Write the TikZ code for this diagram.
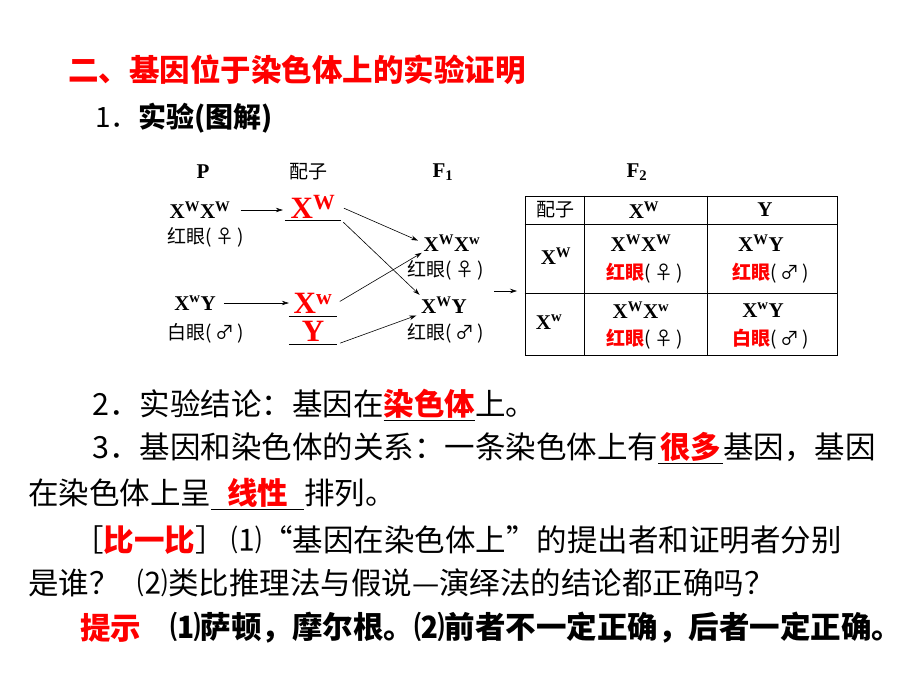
\documentclass[tikz,border=0pt]{standalone}
\usepackage{fontspec}
\setmainfont{Liberation Serif}
\newfontfamily\cjk{Noto Sans CJK SC}
\usetikzlibrary{arrows.meta}

\newcommand{\rtext}[1]{{\color{red}#1}}
\newcommand{\XW}{X\textsuperscript{W}}
\newcommand{\Xw}{X\textsuperscript{w}}
\newcommand{\gap}[2]{\underline{\hspace{#1}\rtext{\bfseries #2}\hspace{#1}}}

\tikzset{
  body/.style={anchor=west, inner sep=0pt, font=\cjk\fontsize{30.5}{31}\selectfont},
  lab/.style={inner sep=0pt, font=\bfseries\fontsize{21}{21}\selectfont},
  cn/.style={inner sep=0pt, font=\cjk\fontsize{19}{19}\selectfont},
  gam/.style={inner sep=0pt, font=\bfseries\fontsize{31}{31}\selectfont},
  arr/.style={-{Stealth[length=7pt,width=4.5pt]}, semithick},
}

\begin{document}
\begin{tikzpicture}[x=1pt,y=-1pt]
\useasboundingbox (0,0) rectangle (920,690);

\node[body, font=\cjk\bfseries\fontsize{30.5}{31}\selectfont] (title) at (68,70) {\rtext{二、基因位于染色体上的实验证明}};
\node[body, font=\cjk\fontsize{28}{28}\selectfont] (s1) at (95,118) {1．{\bfseries 实验(图解)}};

% cross diagram
\node[lab] (P) at (203,172) {P};
\node[cn] (gh) at (308,172) {配子};
\node[lab] (F1) at (443,172) {F\textsubscript{1}};
\node[lab] (F2) at (637,172) {F\textsubscript{2}};

\node[lab] (pf) at (200,210) {\XW\XW};
\node[cn] (pfe) at (206,237) {红眼(\,♀\,)};
\node[lab] (pm) at (195,303) {\Xw Y};
\node[cn] (pme) at (206,333) {白眼(\,♂\,)};

\node[gam, minimum width=56, minimum height=26] (gW) at (313,207) {\rtext{\XW}};
\node[gam, minimum width=48, minimum height=26] (gw) at (313,303) {\rtext{\Xw}};
\node[gam, minimum width=48, minimum height=26] (gY) at (313,331) {\rtext{Y}};
\draw (gW.south west) -- (gW.south east);
\draw (gw.south west) -- (gw.south east);
\draw (gY.south west) -- (gY.south east);

\node[lab] (fa) at (452,243) {\XW\Xw};
\node[cn] (fae) at (446,270) {红眼(\,♀\,)};
\node[lab] (fb) at (444,305) {\XW Y};
\node[cn] (fbe) at (446,333) {红眼(\,♂\,)};

\draw[arr, shorten <=10pt, shorten >=2pt] (pf.east) -- (pf.east -| gW.west);
\draw[arr, shorten <=8pt] (pm.east) -- (pm.east -| gw.west);
\draw[arr, shorten <=3pt, shorten >=6pt] (gW.east) -- (fa.west);
\draw[arr, shorten <=3pt, shorten >=2pt] (gW.south east) -- (fb.north west);
\draw[arr, shorten <=3pt, shorten >=2pt] (gw.east) -- (fa.south west);
\draw[arr, shorten <=3pt, shorten >=5pt] (gY.south east) -- (fb.south west);

% F2 table
\node[draw, thick, minimum width=312, minimum height=159, inner sep=0pt] (tab) at (681,275.5) {};
\coordinate (f1r) at (494,291);
\draw[arr] (f1r) -- ++(23,0);
\draw (584,0 |- tab.north) -- (584,0 |- tab.south);
\draw (707,0 |- tab.north) -- (707,0 |- tab.south);
\draw (tab.west |- 0,224) -- (tab.east |- 0,224);
\draw (tab.west |- 0,293) -- (tab.east |- 0,293);

\node[cn] (t0) at (555,210) {配子};
\node[lab] (t1) at (644,210) {\XW};
\node[lab] (t2) at (765,210) {Y};
\node[lab] (r1) at (556,256) {\XW};
\node[lab] (r2) at (549,322) {\Xw};
\node[lab] (c11) at (641,243) {\XW\XW};
\node[cn] (c11e) at (645,273) {\rtext{\bfseries 红眼}(\,♀\,)};
\node[lab] (c12) at (761,243) {\XW Y};
\node[cn] (c12e) at (771,273) {\rtext{\bfseries 红眼}(\,♂\,)};
\node[lab] (c21) at (641,310) {\XW\Xw};
\node[cn] (c21e) at (645,339) {\rtext{\bfseries 红眼}(\,♀\,)};
\node[lab] (c22) at (763,310) {\Xw Y};
\node[cn] (c22e) at (771,339) {\rtext{\bfseries 白眼}(\,♂\,)};

% text below
\node[body] (s2) at (92,405) {2．实验结论：基因在\gap{0pt}{染色体}上。};
\node[body] (s3) at (92,448) {3．基因和染色体的关系：一条染色体上有\gap{2pt}{很多}基因，基因};
\node[body] (s4) at (28,494) {在染色体上呈\gap{16pt}{线性}排列。};
\node[body] (s5) at (73,540) {［\rtext{\bfseries 比一比}］\hspace{6pt}⑴“基因在染色体上”的提出者和证明者分别};
\node[body] (s6) at (28,583) {是谁？\hspace{18pt}⑵类比推理法与假说—演绎法的结论都正确吗？};
\node[body] (s7a) at (80,628) {\rtext{\bfseries 提示}};
\node[body, font=\cjk\bfseries\fontsize{30.5}{31}\selectfont] (s7b) at (170,628) {⑴萨顿，摩尔根。⑵前者不一定正确，后者一定正确。};
\end{tikzpicture}
\end{document}
